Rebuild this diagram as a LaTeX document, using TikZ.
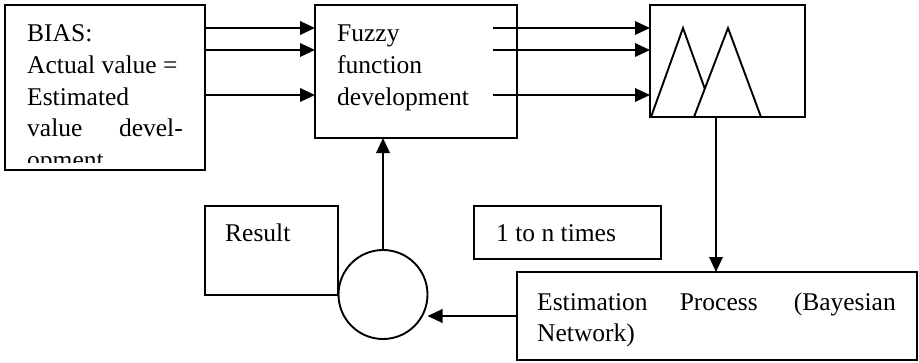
\documentclass[tikz,border=0pt]{standalone}
\usepackage{fontspec}
\setmainfont{Liberation Serif}
\usetikzlibrary{arrows.meta}
\begin{document}
\begin{tikzpicture}[x=1pt,y=-1pt,
  box/.style={draw, line width=1.9pt, inner sep=0pt, outer sep=0pt, anchor=north west},
  arr/.style={line width=1.9pt, -{Triangle[length=15pt,width=13.5pt]}},
  lbl/.style={inner sep=0pt, anchor=base west, font=\fontsize{25.5}{30}\selectfont},
  lblr/.style={lbl, anchor=base east},
  tri/.style={line width=1.9pt, line join=miter},
]
\useasboundingbox (0,0) rectangle (919,362);

% boxes
\node[box, minimum width=200pt, minimum height=165pt] (bias) at (5,5) {};
\node[box, minimum width=202pt, minimum height=133pt] (fuzzy) at (315,5) {};
\node[box, minimum width=155pt, minimum height=112pt] (memb) at (650,5) {};
\node[box, minimum width=400pt, minimum height=88pt] (est) at (517,272) {};
\node[box, minimum width=133pt, minimum height=89pt] (res) at (205,206) {};
\node[box, minimum width=187pt, minimum height=53pt] (times) at (474,206) {};
\node[draw, circle, line width=1.9pt, minimum size=89pt, inner sep=0pt, outer sep=0pt] (circ) at (383,294.5) {};

% BIAS text, last line cut off by the box
\node[lbl] (b1) at (27,41.7) {BIAS:};
\node[lbl] (b2) at (27,73.4) {Actual value =};
\node[lbl] (b3) at (27,105) {Estimated};
\node[lbl] (b4) at (27,136.7) {value};
\node[lblr] (b5) at (183,136.7) {devel-};
\begin{scope}
  \clip (5,5) rectangle (205,162);
  \node[lbl] (b6) at (27,168.4) {opment};
\end{scope}

% fuzzy function text
\node[lbl] (f1) at (337,41.7) {Fuzzy};
\node[lbl] (f2) at (337,73.4) {function};
\node[lbl] (f3) at (337,105) {development};

% other labels
\node[lbl] (r1) at (225,241.7) {Result};
\node[lbl] (n1) at (496,241.7) {1 to n times};
\node[lbl] (e1) at (537,310) {Estimation};
\node[lbl] (e2) at (679.6,310) {Process};
\node[lblr] (e3) at (896,310) {(Bayesian};
\node[lbl] (e4) at (537,341.7) {Network)};

% membership functions
\draw[tri] (651,117) -- (683,28) -- (704.8,88.7);
\draw[tri] (694,117) -- (728,28) -- (761,117);

% inputs to the fuzzy block
\coordinate (i1) at (205,28);
\coordinate (i2) at (205,50);
\coordinate (i3) at (205,95);
\draw[arr] (i1) -- (i1 -| fuzzy.west);
\draw[arr] (i2) -- (i2 -| fuzzy.west);
\draw[arr] (i3) -- (i3 -| fuzzy.west);

% outputs to the membership block
\coordinate (o1) at (493,28);
\coordinate (o2) at (493,50);
\coordinate (o3) at (493,95);
\draw[arr] (o1) -- (o1 -| memb.west);
\draw[arr] (o2) -- (o2 -| memb.west);
\draw[arr] (o3) -- (o3 -| memb.west);

% feedback loop
\coordinate (drop) at (716,117);
\draw[arr] (drop) -- (drop |- est.north);
\draw[arr] (est.west) -- (est.west -| circ.east);
\draw[arr] (circ.north) -- (circ.north |- fuzzy.south);
\end{tikzpicture}
\end{document}
